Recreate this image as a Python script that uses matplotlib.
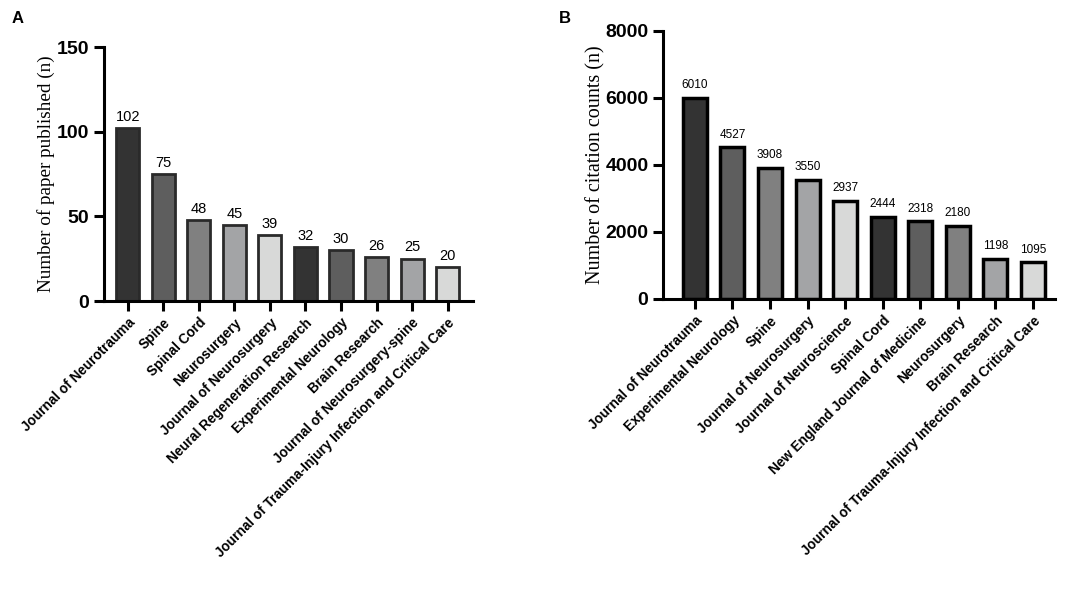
import matplotlib
matplotlib.use("Agg")
import matplotlib.pyplot as plt

# Panel A: number of papers published
journals_a = ["Journal of Neurotrauma", "Spine", "Spinal Cord", "Neurosurgery",
              "Journal of Neurosurgery", "Neural Regeneration Research",
              "Experimental Neurology", "Brain Research",
              "Journal of Neurosurgery-spine",
              "Journal of Trauma-Injury Infection and Critical Care"]
papers = [102, 75, 48, 45, 39, 32, 30, 26, 25, 20]

# Panel B: citation counts
journals_b = ["Journal of Neurotrauma", "Experimental Neurology", "Spine",
              "Journal of Neurosurgery", "Journal of Neuroscience", "Spinal Cord",
              "New England Journal of Medicine", "Neurosurgery", "Brain Research",
              "Journal of Trauma-Injury Infection and Critical Care"]
citations = [6010, 4527, 3908, 3550, 2937, 2444, 2318, 2180, 1198, 1095]

shades = ["#333333", "#5e5e5e", "#808080", "#a3a4a6", "#d8d9d8"] * 2

SANS = "Liberation Sans"
SERIF = "Liberation Serif"


def style_axis(ax, yticks, ylabel, ylfs, pad):
    for s in ["top", "right"]:
        ax.spines[s].set_visible(False)
    for s in ["left", "bottom"]:
        ax.spines[s].set_linewidth(2.2)
    ax.tick_params(axis="both", width=2.2, length=7, direction="out")
    ax.set_yticks(yticks)
    ax.set_yticklabels([str(t) for t in yticks], fontfamily=SANS,
                       fontweight="bold", fontsize=14)
    ax.set_ylabel(ylabel, fontfamily=SERIF, fontsize=ylfs, labelpad=pad)


def draw_panel(ax, names, values, ymax, yticks, ylabel, xlim, width,
               edge, lw, fs, offset, ylfs, pad):
    x = range(len(values))
    ax.bar(x, values, width=width, color=shades, edgecolor=edge, linewidth=lw)
    for i, v in zip(x, values):
        ax.text(i, v + offset, str(v), ha="center", va="bottom",
                fontfamily=SANS, fontsize=fs)
    ax.set_xlim(*xlim)
    ax.set_ylim(0, ymax)
    ax.set_xticks(list(x))
    ax.set_xticklabels(names, rotation=45, ha="right", rotation_mode="anchor",
                       fontfamily=SANS, fontweight="bold", fontsize=9.8)
    style_axis(ax, yticks, ylabel, ylfs, pad)


fig = plt.figure(figsize=(10.84, 5.95), dpi=100)

ax_a = fig.add_axes([0.0959, 0.494, 0.340, 0.427])
draw_panel(ax_a, journals_a, papers, 150, [0, 50, 100, 150],
           "Number of paper published (n)", (-0.67, 9.7), 0.65,
           "#2a2a2a", 2.0, 10.5, 2.5, 13.8, 1)

ax_b = fig.add_axes([0.6116, 0.4975, 0.3614, 0.4505])
draw_panel(ax_b, journals_b, citations, 8000, [0, 2000, 4000, 6000, 8000],
           "Number of citation counts (n)", (-0.85, 9.58), 0.64,
           "black", 2.5, 8.5, 200, 14.5, 0)

fig.text(0.011, 0.962, "A", fontfamily=SANS, fontweight="bold", fontsize=12)
fig.text(0.516, 0.962, "B", fontfamily=SANS, fontweight="bold", fontsize=12)

fig.savefig("out.png", dpi=100)
